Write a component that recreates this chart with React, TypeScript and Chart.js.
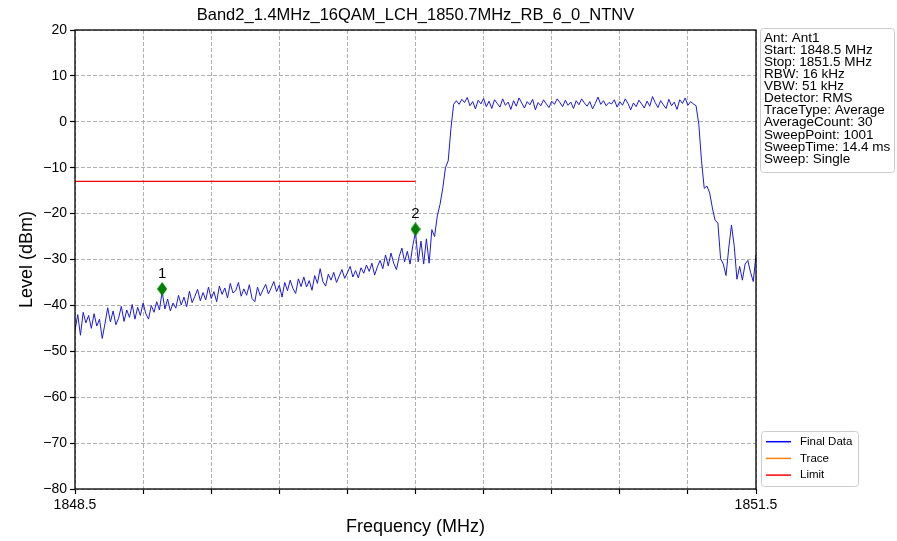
import React, { useEffect, useRef } from 'react';
import { Chart, registerables } from 'chart.js';

Chart.register(...registerables);

const TITLE = 'Band2_1.4MHz_16QAM_LCH_1850.7MHz_RB_6_0_NTNV';
const X_TITLE = 'Frequency (MHz)';
const Y_TITLE = 'Level (dBm)';

const FREQ_START = 1848.5;
const FREQ_STOP = 1851.5;
const FREQ_STEP = 0.012;

// Trace levels (dBm), one per 0.012 MHz
const levelsLowerSkirt: number[] = [
  -45.5, -42.0, -46.5, -41.5, -43.8, -42.2, -45.0, -41.8, -44.5, -43.0,
  -47.2, -44.0, -40.5, -43.6, -41.2, -44.2, -42.8, -40.2, -43.5, -41.0,
  -42.6, -39.8, -43.0, -40.4, -42.2, -39.5, -41.8, -43.0, -40.0, -41.5,
  -39.2, -41.0, -37.0, -40.8, -38.6, -41.2, -39.5, -40.6, -37.8, -39.9,
  -38.2, -40.3, -36.9, -39.4, -38.0, -36.5, -39.0, -37.2, -38.8, -36.0,
  -38.5, -37.0, -39.2, -35.8, -37.6, -36.2, -38.4, -35.2, -37.3, -36.8,
  -35.0, -38.0, -36.4, -37.8, -35.5, -38.5, -39.2, -36.0, -37.9, -36.6,
  -35.4, -37.5, -36.2, -34.8, -37.0, -35.6, -38.2, -35.0, -36.8, -34.5,
  -36.3, -37.4, -34.2, -35.9, -33.8, -36.0, -34.6, -36.7, -33.5, -35.2,
  -32.0, -34.8, -35.8, -33.2, -34.5, -32.8, -35.0, -33.6, -32.2, -34.1,
  -32.9, -31.5, -33.8, -32.4, -34.0, -31.8, -33.0, -31.2, -32.6, -30.8,
  -33.4, -31.6, -30.2, -32.0, -29.0, -31.4, -28.6, -30.8, -32.2, -29.4,
  -27.5, -30.5, -28.2, -31.0, -27.0,
];
const levelsRise: number[] = [
  -24.0, -30.5, -26.0, -31.0, -25.5, -30.8, -23.5, -25.0, -20.5, -18.0,
  -14.5, -10.0, -8.5, -1.5, 3.8,
];
const levelsChannel: number[] = [
  4.6, 3.8, 4.9, 4.2, 5.3, 3.5, 4.4, 2.8, 4.7, 3.9,
  5.1, 3.3, 4.5, 2.9, 4.8, 4.0, 3.2, 5.0, 3.6, 4.3,
  2.7, 4.6, 3.4, 5.2, 4.1, 3.0, 4.4, 3.7, 4.9, 2.6,
  4.2, 3.5, 4.8, 3.9, 3.1, 4.5, 3.8, 5.0, 4.2, 3.3,
  4.7, 3.6, 4.3, 2.9, 4.6, 3.7, 5.0, 4.1, 3.4, 4.4,
  2.8, 4.0, 5.4, 3.8, 4.6, 3.5, 4.2, 3.9, 4.8, 3.2,
  4.4, 3.6, 5.0, 4.0, 2.6, 4.1, 3.3, 4.7, 3.9, 3.0,
  4.5, 3.4, 5.5, 4.2, 3.1, 4.6, 3.7, 2.9, 4.9, 3.5,
  4.3, 2.7, 4.8, 4.0, 5.2, 3.6, 4.4, 3.9,
];
const levelsFall: number[] = [
  3.5, -0.5, -8.5, -14.5, -14.0, -15.5, -18.8, -21.5, -22.0, -29.8,
  -31.0, -33.5, -27.5, -22.5, -27.0, -34.3, -31.5, -34.5, -31.0, -30.2,
  -32.8, -34.8, -29.0,
];

const limitFreqs: number[] = [1848.5, 1850.0];
const limitLevels: number[] = [-13, -13];

const markerFreqs: number[] = [1848.884, 1850.0];
const markerLevels: number[] = [-36.4, -23.4];
const markerLabels: string[] = ['1', '2'];

const xTicks: number[] = [1848.5, 1848.8, 1849.1, 1849.4, 1849.7, 1850.0, 1850.3, 1850.6, 1850.9, 1851.2, 1851.5];
const xTickLabels: string[] = ['1848.5', '', '', '', '', '', '', '', '', '', '1851.5'];
const yTicks: number[] = [-80, -70, -60, -50, -40, -30, -20, -10, 0, 10, 20];

const infoLines: string[] = [
  'Ant: Ant1',
  'Start: 1848.5 MHz',
  'Stop: 1851.5 MHz',
  'RBW: 16 kHz',
  'VBW: 51 kHz',
  'Detector: RMS',
  'TraceType: Average',
  'AverageCount: 30',
  'SweepPoint: 1001',
  'SweepTime: 14.4 ms',
  'Sweep: Single',
];

const legendLabels: string[] = ['Final Data', 'Trace', 'Limit'];
const legendColors: string[] = ['#0000ff', '#ff7f0e', '#ff0000'];

const FONT = '"Liberation Sans", Arial, Helvetica, sans-serif';

export default function App() {
  const ref = useRef<HTMLCanvasElement | null>(null);

  useEffect(() => {
    if (!ref.current) return;
    const levels = [...levelsLowerSkirt, ...levelsRise, ...levelsChannel, ...levelsFall];
    const traceData = levels.map((v, i) => ({ x: FREQ_START + i * FREQ_STEP, y: v }));
    const limitData = limitFreqs.map((f, i) => ({ x: f, y: limitLevels[i] }));
    const markerData = markerFreqs.map((f, i) => ({ x: f, y: markerLevels[i] }));

    const diamond = document.createElement('canvas');
    diamond.width = 10;
    diamond.height = 14;
    const g = diamond.getContext('2d')!;
    g.fillStyle = '#008000';
    g.beginPath();
    g.moveTo(5, 0);
    g.lineTo(10, 7);
    g.lineTo(5, 14);
    g.lineTo(0, 7);
    g.closePath();
    g.fill();

    const overlay = {
      id: 'overlay',
      afterDraw(chart: any) {
        const ctx = chart.ctx as CanvasRenderingContext2D;
        const a = chart.chartArea;
        const xs = chart.scales.x;
        const ys = chart.scales.y;
        ctx.save();
        // frame
        ctx.strokeStyle = '#000';
        ctx.lineWidth = 1.3;
        ctx.strokeRect(a.left, a.top, a.right - a.left, a.bottom - a.top);
        // title
        ctx.fillStyle = '#000';
        ctx.textAlign = 'center';
        ctx.textBaseline = 'middle';
        ctx.font = `16.5px ${FONT}`;
        ctx.fillText(TITLE, (a.left + a.right) / 2, 15);
        // axis titles
        ctx.font = `18px ${FONT}`;
        ctx.fillText(X_TITLE, (a.left + a.right) / 2, 527);
        ctx.save();
        ctx.translate(27, (a.top + a.bottom) / 2);
        ctx.rotate(-Math.PI / 2);
        ctx.fillText(Y_TITLE, 0, 0);
        ctx.restore();
        // marker labels
        ctx.font = `15px ${FONT}`;
        markerFreqs.forEach((f, i) => {
          ctx.fillText(markerLabels[i], xs.getPixelForValue(f), ys.getPixelForValue(markerLevels[i]) - 15);
        });
        // info box
        ctx.fillStyle = '#fff';
        ctx.strokeStyle = '#cccccc';
        ctx.lineWidth = 1;
        ctx.beginPath();
        (ctx as any).roundRect(760.5, 28.5, 134, 144, 3);
        ctx.fill();
        ctx.stroke();
        ctx.fillStyle = '#000';
        ctx.textAlign = 'left';
        ctx.font = `13.5px ${FONT}`;
        infoLines.forEach((t, i) => {
          ctx.fillText(t, 764, 38 + i * 12.1);
        });
        // legend box
        ctx.fillStyle = '#fff';
        ctx.strokeStyle = '#cccccc';
        ctx.beginPath();
        (ctx as any).roundRect(761.5, 431.5, 97, 55, 3);
        ctx.fill();
        ctx.stroke();
        ctx.font = `11.5px ${FONT}`;
        legendLabels.forEach((t, i) => {
          const y = 441.7 + i * 16.7;
          ctx.strokeStyle = legendColors[i];
          ctx.lineWidth = 1.5;
          ctx.beginPath();
          ctx.moveTo(766, y);
          ctx.lineTo(791, y);
          ctx.stroke();
          ctx.fillStyle = '#000';
          ctx.fillText(t, 800, y);
        });
        ctx.restore();
      },
    };

    const chart = new Chart(ref.current, {
      type: 'scatter',
      data: {
        datasets: [
          {
            label: 'Markers',
            data: markerData,
            showLine: false,
            pointStyle: diamond as any,
            pointRadius: 6,
            pointHoverRadius: 6,
          },
          {
            label: 'Limit',
            data: limitData,
            showLine: true,
            borderColor: '#ff0000',
            borderWidth: 1.2,
            pointRadius: 0,
          },
          {
            label: 'Trace',
            data: [],
            showLine: true,
            borderColor: '#ff7f0e',
            borderWidth: 1,
            pointRadius: 0,
          },
          {
            label: 'Final Data',
            data: traceData,
            showLine: true,
            borderColor: '#1a1add',
            borderWidth: 1,
            pointRadius: 0,
          },
        ],
      },
      options: {
        animation: false,
        responsive: false,
        devicePixelRatio: 1,
        events: [],
        layout: { padding: { top: 30, right: 141, bottom: 0, left: 0 } },
        plugins: {
          legend: { display: false },
          title: { display: false },
          tooltip: { enabled: false },
        },
        scales: {
          x: {
            type: 'linear',
            min: FREQ_START,
            max: FREQ_STOP,
            afterBuildTicks: (s: any) => {
              s.ticks = xTicks.map((v) => ({ value: v }));
            },
            afterFit: (s: any) => {
              s.height = 52;
            },
            ticks: {
              autoSkip: false,
              maxRotation: 0,
              padding: 3,
              color: '#000',
              font: { family: FONT, size: 14 },
              callback: (_v: any, i: number) => xTickLabels[i],
            },
            grid: {
              color: '#b0b0b0',
              lineWidth: 1,
              drawTicks: true,
              tickLength: 5,
              tickColor: '#000',
              tickWidth: 1.2,
              tickBorderDash: [],
            } as any,
            border: { display: false, dash: [4, 2] },
          },
          y: {
            type: 'linear',
            min: -80,
            max: 20,
            afterBuildTicks: (s: any) => {
              s.ticks = yTicks.map((v) => ({ value: v }));
            },
            afterFit: (s: any) => {
              s.width = 75;
            },
            ticks: {
              autoSkip: false,
              padding: 3,
              color: '#000',
              font: { family: FONT, size: 14 },
              callback: (v: any) => String(v).replace('-', '\u2212'),
            },
            grid: {
              color: '#b0b0b0',
              lineWidth: 1,
              drawTicks: true,
              tickLength: 5,
              tickColor: '#000',
              tickWidth: 1.2,
              tickBorderDash: [],
            } as any,
            border: { display: false, dash: [4, 2] },
          },
        },
      } as any,
      plugins: [overlay],
    });

    return () => chart.destroy();
  }, []);

  return (
    <div style={{ position: 'absolute', left: 0, top: 0, width: 897, height: 541, background: '#fff' }}>
      <canvas ref={ref} width={897} height={541} style={{ display: 'block', width: 897, height: 541 }} />
    </div>
  );
}
